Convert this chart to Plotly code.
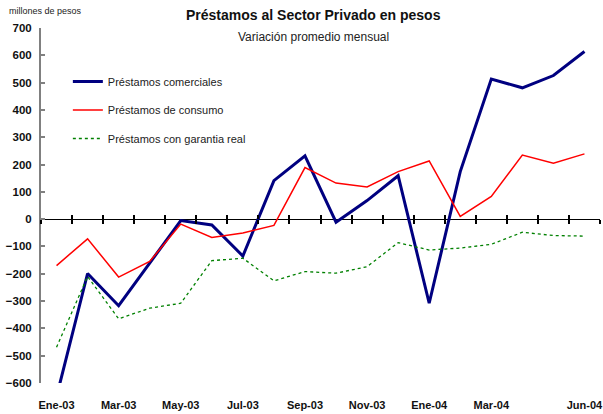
import plotly.graph_objects as go

meses = ["Ene-03", "Feb-03", "Mar-03", "Abr-03", "May-03", "Jun-03", "Jul-03", "Ago-03",
         "Sep-03", "Oct-03", "Nov-03", "Dic-03", "Ene-04", "Feb-04", "Mar-04", "Abr-04",
         "May-04", "Jun-04"]
comerciales = [-650, -199, -317, -160, -5, -21, -135, 141, 232, -11, 68, 159, -308, 174, 513, 481, 526, 614]
consumo = [-170, -72, -212, -155, -18, -67, -51, -23, 189, 132, 118, 174, 213, 10, 83, 235, 205, 239]
garantia = [-469, -210, -365, -326, -308, -152, -143, -226, -192, -198, -174, -86, -113, -106, -92, -48, -60, -62]
etiquetas_x = ["Ene-03", "Mar-03", "May-03", "Jul-03", "Sep-03", "Nov-03", "Ene-04", "Mar-04", "Jun-04"]
ticks_y = list(range(-600, 701, 100))

FONT = "Liberation Sans, Arial, sans-serif"
W, H = 603, 414
ML, MR, MT, MB = 41, 0, 28, 31
PW, PH = W - ML - MR, H - MT - MB
YMIN, YMAX = -600, 700


def px_x(p):
    return (p - ML) / PW


def px_y(p):
    return (H - MB - p) / PH


fig = go.Figure()
fig.add_trace(go.Scatter(x=meses, y=comerciales, mode="lines", name="Préstamos comerciales",
                         line=dict(color="#000080", width=3), legendgroup="a"))
fig.add_trace(go.Scatter(x=meses, y=consumo, mode="lines", name="Préstamos de consumo",
                         line=dict(color="#FF0000", width=1.5), legendgroup="b"))
fig.add_trace(go.Scatter(x=meses, y=garantia, mode="lines", name="Préstamos con garantia real",
                         line=dict(color="#008000", width=1.3, dash="dot"), legendgroup="c"))
# helper traces so the zero-crossing category axes draw their boundary ticks
for ax in ("x2", "x3"):
    fig.add_trace(go.Scatter(x=meses, y=[0] * len(meses), xaxis=ax, mode="lines",
                             line=dict(width=0, color="rgba(0,0,0,0)"), showlegend=False,
                             hoverinfo="skip"))

zero_pos = (0 - YMIN) / (YMAX - YMIN)
cat_axis = dict(type="category", categoryorder="array", categoryarray=meses,
                range=[-0.5, len(meses) - 0.5], overlaying="x", anchor="free",
                position=zero_pos, tickson="boundaries", showticklabels=False,
                showgrid=False, zeroline=False, showline=False, ticklen=4,
                tickcolor="#000000", tickwidth=1.5)

fig.update_layout(
    width=W, height=H,
    margin=dict(l=ML, r=MR, t=MT, b=MB),
    paper_bgcolor="white", plot_bgcolor="white",
    font=dict(family=FONT, color="#000000"),
    showlegend=True,
    legend=dict(x=px_x(68), y=px_y(67), xanchor="left", yanchor="top",
                bgcolor="rgba(0,0,0,0)", font=dict(size=11, color="#222222"),
                tracegroupgap=9.5, itemwidth=30),
    xaxis=dict(type="category", categoryorder="array", categoryarray=meses,
               range=[-0.5, len(meses) - 0.5], tickmode="array", tickvals=etiquetas_x,
               ticktext=etiquetas_x, ticks="", showline=False, showgrid=False,
               zeroline=False, ticklabelstandoff=14,
               tickfont=dict(size=11, family=FONT, color="#111111", weight="bold")),
    xaxis2=dict(cat_axis, ticks="outside"),
    xaxis3=dict(cat_axis, ticks="inside"),
    yaxis=dict(range=[YMIN, YMAX], tickmode="array", tickvals=ticks_y, showgrid=False,
               zeroline=True, zerolinecolor="#000000", zerolinewidth=1.2,
               showline=True, linecolor="#808080", linewidth=2,
               ticks="inside", ticklen=4, tickcolor="#808080", tickwidth=1.5,
               ticklabelstandoff=5,
               tickfont=dict(size=11.5, family=FONT, color="#111111", weight="bold")),
    annotations=[
        dict(text="Préstamos al Sector Privado en pesos", xref="paper", yref="paper",
             x=px_x(315), y=px_y(15), xanchor="center", yanchor="middle", showarrow=False,
             font=dict(size=14, family=FONT, color="#111111", weight="bold")),
        dict(text="Variación promedio mensual", xref="paper", yref="paper",
             x=px_x(315), y=px_y(37), xanchor="center", yanchor="middle", showarrow=False,
             font=dict(size=12, family=FONT, color="#222222")),
        dict(text="millones de pesos", xref="paper", yref="paper",
             x=px_x(7), y=px_y(11), xanchor="left", yanchor="middle", showarrow=False,
             font=dict(size=9, family=FONT, color="#222222")),
    ],
)

fig.write_html("out.html", config={"displayModeBar": False},
               post_script="document.body.style.margin='0';document.body.style.overflow='hidden';")
